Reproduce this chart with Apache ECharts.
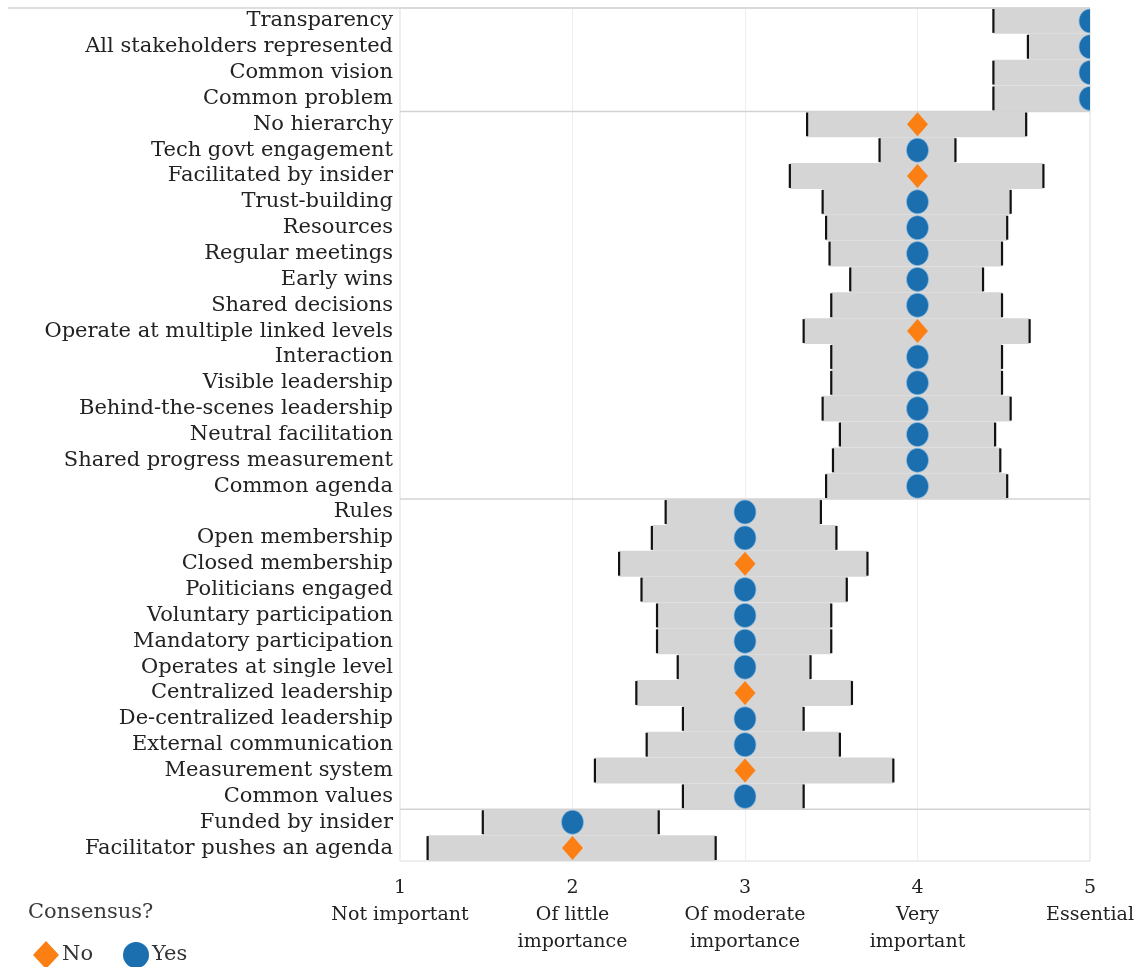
<!DOCTYPE html>
<html>
<head>
<meta charset="utf-8">
<script src="https://cdn.jsdelivr.net/npm/echarts@6/dist/echarts.min.js"></script>
<style>
  html, body { margin: 0; padding: 0; background: #ffffff; }
  #chart { width: 1134px; height: 967px; }
</style>
</head>
<body>
<div id="chart"></div>
<script>
// rows top to bottom
const categories = [
  'Transparency', 'All stakeholders represented', 'Common vision', 'Common problem',
  'No hierarchy', 'Tech govt engagement', 'Facilitated by insider', 'Trust-building',
  'Resources', 'Regular meetings', 'Early wins', 'Shared decisions',
  'Operate at multiple linked levels', 'Interaction', 'Visible leadership',
  'Behind-the-scenes leadership', 'Neutral facilitation', 'Shared progress measurement',
  'Common agenda',
  'Rules', 'Open membership', 'Closed membership', 'Politicians engaged',
  'Voluntary participation', 'Mandatory participation', 'Operates at single level',
  'Centralized leadership', 'De-centralized leadership', 'External communication',
  'Measurement system', 'Common values',
  'Funded by insider', 'Facilitator pushes an agenda'
];
const lows = [
  4.44, 4.64, 4.44, 4.44,
  3.36, 3.78, 3.26, 3.45, 3.47, 3.49, 3.61, 3.50, 3.34, 3.50, 3.50, 3.45, 3.55, 3.51, 3.47,
  2.54, 2.46, 2.27, 2.40, 2.49, 2.49, 2.61, 2.37, 2.64, 2.43, 2.13, 2.64,
  1.48, 1.16
];
const highs = [
  5.2, 5.2, 5.2, 5.2,
  4.63, 4.22, 4.73, 4.54, 4.52, 4.49, 4.38, 4.49, 4.65, 4.49, 4.49, 4.54, 4.45, 4.48, 4.52,
  3.44, 3.53, 3.71, 3.59, 3.50, 3.50, 3.38, 3.62, 3.34, 3.55, 3.86, 3.34,
  2.50, 2.83
];
const medians = [
  5, 5, 5, 5,
  4, 4, 4, 4, 4, 4, 4, 4, 4, 4, 4, 4, 4, 4, 4,
  3, 3, 3, 3, 3, 3, 3, 3, 3, 3, 3, 3,
  2, 2
];
const consensus = [
  'Yes', 'Yes', 'Yes', 'Yes',
  'No', 'Yes', 'No', 'Yes', 'Yes', 'Yes', 'Yes', 'Yes', 'No', 'Yes', 'Yes', 'Yes', 'Yes', 'Yes', 'Yes',
  'Yes', 'Yes', 'No', 'Yes', 'Yes', 'Yes', 'Yes', 'No', 'Yes', 'Yes', 'No', 'Yes',
  'Yes', 'No'
];
const groupSizes = [4, 15, 12, 2];
const xTickLabels = {
  1: '1\nNot important',
  2: '2\nOf little\nimportance',
  3: '3\nOf moderate\nimportance',
  4: '4\nVery\nimportant',
  5: '5\nEssential'
};

const FONT = 'DejaVu Serif';
const chart = echarts.init(document.getElementById('chart'));

const rangeData = categories.map((c, i) => [lows[i], highs[i], i]);
const noData = [];
const yesData = [];
categories.forEach((c, i) => {
  (consensus[i] === 'No' ? noData : yesData).push([medians[i], i]);
});

// boundaries between groups (index of last row in each group, -1 = top edge)
const boundaries = [-1];
let acc = 0;
groupSizes.slice(0, -1).forEach(n => { acc += n; boundaries.push(acc - 1); });

const renderRange = (params, api) => {
  const p0 = api.coord([api.value(0), api.value(2)]);
  const p1 = api.coord([api.value(1), api.value(2)]);
  const h = api.size([0, 1])[1];
  const top = p0[1] - h / 2;
  return {
    type: 'group',
    children: [
      { type: 'rect', shape: { x: p0[0], y: top, width: p1[0] - p0[0], height: h },
        style: { fill: '#d5d5d5' } },
      { type: 'line', shape: { x1: p0[0], y1: top + 1, x2: p0[0], y2: top + h - 1 },
        style: { stroke: '#111', lineWidth: 2.2 } },
      { type: 'line', shape: { x1: p1[0], y1: top + 1, x2: p1[0], y2: top + h - 1 },
        style: { stroke: '#111', lineWidth: 2.2 } }
    ]
  };
};

const renderMarker = shape => (params, api) => {
  const p = api.coord([api.value(0), api.value(1)]);
  const color = api.visual('color');
  if (shape === 'circle') {
    return { type: 'ellipse', shape: { cx: p[0], cy: p[1], rx: 11, ry: 12 },
      style: { fill: color, stroke: 'rgba(140,190,230,0.7)', lineWidth: 1 } };
  }
  return { type: 'polygon',
    shape: { points: [[p[0], p[1] - 12], [p[0] + 10.5, p[1]], [p[0], p[1] + 12], [p[0] - 10.5, p[1]]] },
    style: { fill: color } };
};

const renderSep = (params, api) => {
  const idx = api.value(0);
  const cs = params.coordSys;
  const h = api.size([0, 1])[1];
  const y = idx < 0 ? cs.y : api.coord([1, idx])[1] + h / 2;
  const x1 = idx < 0 ? 8 : cs.x;
  return { type: 'line', shape: { x1: x1, y1: y, x2: cs.x + cs.width, y2: y },
    style: { stroke: '#d3d3d3', lineWidth: 1.5 } };
};

const option = {
  backgroundColor: '#ffffff',
  animation: false,
  grid: {
    left: 400, right: 44, top: 8, bottom: 106,
    outerBoundsMode: 'none', containLabel: false,
    show: true, borderColor: '#dcdcdc', borderWidth: 1
  },
  graphic: [{
    type: 'text', left: 28, top: 902,
    style: { text: 'Consensus?', font: '21px "' + FONT + '"', fill: '#3a3a3a' }
  }],
  legend: {
    left: 28, top: 936,
    itemWidth: 26, itemHeight: 28, itemGap: 30,
    textStyle: { fontFamily: FONT, fontSize: 21, color: '#333', padding: [0, 0, 0, -2] },
    data: [{ name: 'No', icon: 'diamond' }, { name: 'Yes', icon: 'circle' }]
  },
  xAxis: {
    type: 'value', min: 1, max: 5, interval: 1,
    axisLine: { show: false },
    axisTick: { show: false },
    splitLine: { show: true, lineStyle: { color: '#eeeeee', width: 1 } },
    axisLabel: {
      margin: 14, fontFamily: FONT, fontSize: 19, lineHeight: 27, color: '#222',
      verticalAlign: 'top',
      formatter: v => xTickLabels[v] || ''
    }
  },
  yAxis: {
    type: 'category', data: categories, inverse: true,
    axisLine: { show: false },
    axisTick: { show: false },
    splitLine: { show: false },
    axisLabel: { margin: 7, fontFamily: FONT, fontSize: 21, color: '#222', interval: 0 }
  },
  series: [
    {
      name: 'range', type: 'custom', clip: true, silent: true,
      encode: { x: [0, 1], y: 2 },
      renderItem: renderRange, data: rangeData
    },
    {
      name: 'sep', type: 'custom', silent: true,
      renderItem: renderSep, data: boundaries.map(b => [b])
    },
    {
      name: 'No', type: 'custom', clip: true,
      itemStyle: { color: '#fb7f12' },
      encode: { x: 0, y: 1 },
      renderItem: renderMarker('diamond'), data: noData
    },
    {
      name: 'Yes', type: 'custom', clip: true,
      itemStyle: { color: '#1b6faf' },
      encode: { x: 0, y: 1 },
      renderItem: renderMarker('circle'), data: yesData
    }
  ]
};

option && chart.setOption(option);
</script>
</body>
</html>
